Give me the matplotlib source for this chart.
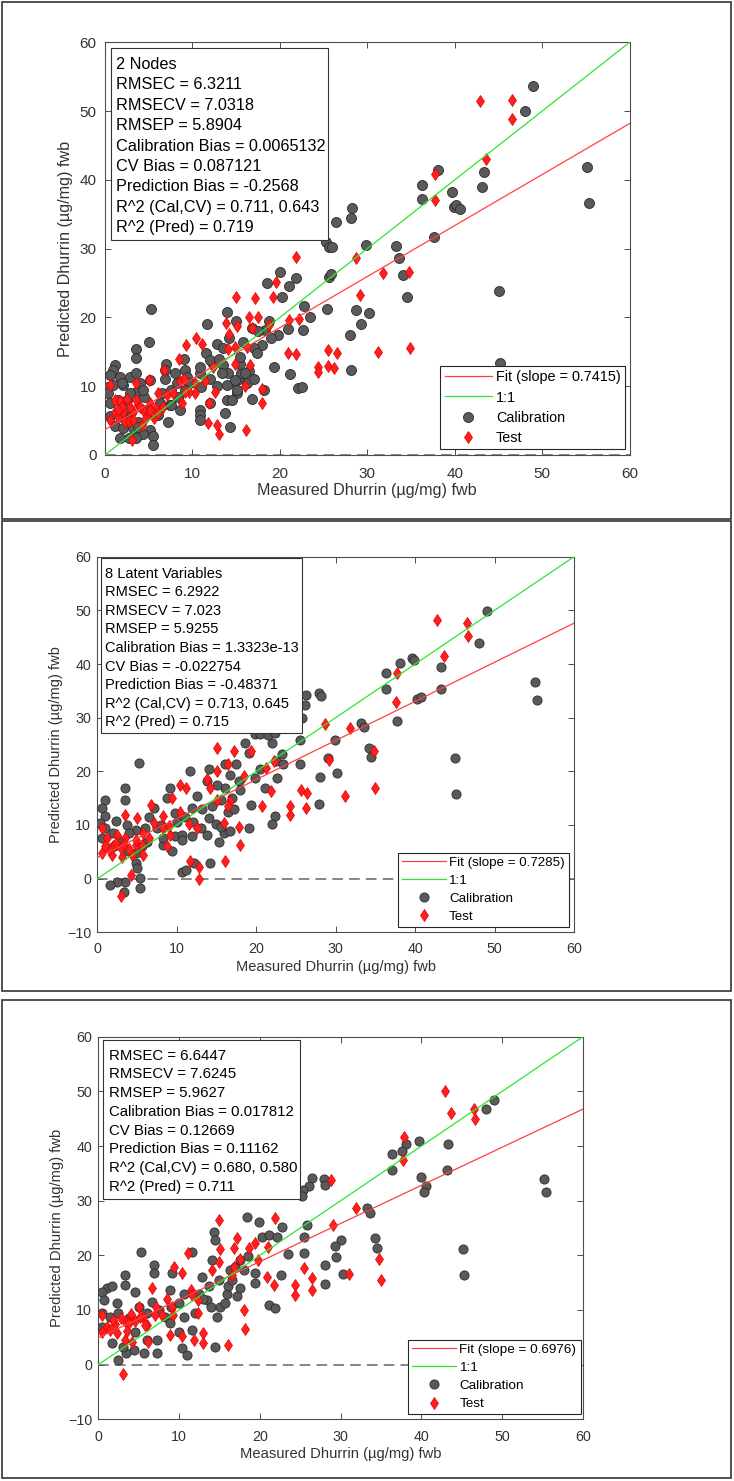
import matplotlib
matplotlib.use("Agg")
import matplotlib.pyplot as plt
from matplotlib.patches import Rectangle

plt.rcParams['font.family'] = ['Liberation Sans', 'DejaVu Sans']

# ---- Panel 1 (2 Nodes) ----
cal1_x = [25.3, 25.6, 26.0, 20.0, 21.9, 21.0, 20.2, 18.5, 23.5, 22.6, 20.9, 19.8, 18.3,
          14.0, 11.7, 15.8, 17.9, 5.0, 5.3, 3.5, 3.5, 1.1, 0.9, 0.6, 1.7, 2.9,
          0.4, 0.95, 2.1, 3.6, 4.0, 5.1, 7.0, 6.9, 6.9, 8.0, 9.1, 9.4, 9.7, 9.2, 8.4, 8.6,
          7.4, 7.2, 6.3, 6.1, 5.5, 5.2, 5.5, 5.5, 4.4, 3.6, 2.7, 1.7, 3.2, 3.8, 3.0, 2.5,
          1.5, 0.6, 0.6, 0.4, 10.9, 11.0, 12.0, 12.4, 13.5, 14.1, 14.7, 15.3, 15.6, 15.4,
          15.4, 17.0, 17.4, 16.2, 15.1, 13.9, 14.5, 12.0, 10.9, 10.9, 10.9, 11.6, 12.0,
          13.7, 14.3, 19.3, 21.2, 22.1, 22.5, 9.0, 16.5, 17.0, 18.2, 16.8, 13.0, 12.8,
          7.5, 8.2, 6.5, 4.5, 4.8, 2.0, 1.2, 2.4, 3.5, 18.8, 19.0, 16.8, 17.5, 15.0, 14.2,
          12.8, 13.5, 2.0, 4.4, 2.9, 2.1, 3.8, 10.9, 13.4, 13.9, 15.1, 14.9, 16.0, 7.6,
          49.0, 48.0, 55.1, 55.4, 43.3, 43.1, 38.1, 36.3, 36.3, 39.7, 39.9,
          40.2, 40.6, 37.6, 28.2, 28.1, 26.4, 25.6, 25.9, 29.9, 33.3, 33.6, 34.1, 34.5,
          45.1, 45.2, 25.4, 28.7, 30.2, 29.3, 28.0, 28.1, 22.8]
cal1_y = [31.0, 30.3, 30.2, 26.6, 25.7, 24.5, 23.0, 25.0, 20.0, 18.2, 18.3, 17.4, 18.2,
          20.8, 19.1, 16.5, 16.0, 16.4, 21.2, 15.4, 14.1, 13.1, 12.4, 11.6, 11.4, 11.4,
          9.9, 10.2, 10.2, 11.9, 10.4, 10.9, 13.3, 12.4, 11.1, 11.9, 12.4, 11.4, 10.4, 9.4,
          8.5, 6.5, 7.3, 4.8, 7.5, 5.8, 6.1, 3.6, 2.7, 1.5, 3.1, 2.4, 2.4, 2.4, 3.9, 4.8,
          6.3, 8.0, 8.0, 7.5, 5.6, 9.0, 11.9, 9.9, 11.1, 13.3, 13.1, 11.9, 10.4, 11.1,
          11.9, 13.3, 14.3, 15.5, 14.8, 10.4, 9.0, 8.0, 8.0, 7.5, 6.5, 5.8, 12.8, 14.8,
          13.8, 6.1, 4.1, 12.8, 11.8, 9.7, 9.9, 14.0, 12.2, 11.0, 9.5, 8.2, 14.0, 10.0,
          9.5, 10.5, 9.0, 8.5, 6.5, 5.5, 4.2, 6.8, 9.2, 19.5, 17.0, 18.5, 18.0, 19.5, 17.0,
          16.2, 15.5, 10.4, 9.5, 9.0, 3.9, 4.1, 5.1, 11.9, 10.2, 9.5, 10.9, 11.9, 7.3,
          53.7, 50.0, 41.8, 36.7, 41.1, 38.9, 41.4, 39.2, 37.2, 38.2, 36.0,
          36.4, 35.8, 31.7, 35.9, 34.4, 33.9, 25.9, 26.3, 30.6, 30.4, 28.7, 26.2, 23.0,
          23.9, 13.4, 21.2, 21.1, 20.7, 19.1, 17.5, 12.4, 21.7]
test1_x = [21.9, 19.6, 19.2, 15.0, 17.2, 22.2, 21.0, 18.7, 17.5, 16.5, 16.8, 15.1, 13.8,
           14.2, 16.2, 14.9, 14.1, 0.57, 1.1, 1.7, 2.5, 1.1, 2.1, 3.2, 4.4, 5.1, 5.0, 0.6,
           2.3, 4.2, 3.1, 3.6, 5.0, 6.7, 8.5, 9.3, 10.4, 11.1, 12.4, 8.6, 10.3, 11.4, 12.6,
           7.1, 7.8, 8.8, 6.1, 10.3, 11.9, 14.9, 16.6, 16.0, 17.9, 18.0, 11.8, 12.8, 13.0,
           16.1, 20.9, 21.9, 1.5, 2.8, 3.8, 4.6, 3.5, 2.0, 5.8, 6.6, 9.6, 9.0, 5.6,
           3.2, 5.5, 6.1, 1.5, 2.9, 4.0, 5.2, 9.1,
           24.4, 24.4, 25.5, 25.5, 26.2, 26.5, 31.2, 34.9,
           42.9, 46.5, 46.6, 43.6, 37.8, 37.7, 28.7, 31.8, 34.8, 29.2]
test1_y = [28.8, 25.2, 23.0, 23.0, 22.8, 19.7, 19.6, 18.9, 20.0, 20.0, 18.4, 18.7, 19.2,
           17.6, 15.7, 15.7, 15.4, 10.2, 8.0, 7.8, 8.2, 6.3, 6.3, 6.3, 6.5, 7.5, 6.3, 5.1,
           4.8, 4.4, 2.2, 10.4, 10.9, 12.4, 14.0, 16.0, 17.0, 16.2, 12.8, 10.7, 10.4, 10.7,
           9.1, 8.7, 9.0, 7.5, 9.0, 9.0, 7.5, 13.3, 13.1, 10.1, 9.6, 7.6, 4.7, 4.4, 3.1,
           3.6, 14.9, 14.7, 5.5, 5.0, 7.2, 5.2, 8.0, 7.0, 6.8, 7.0, 9.2, 11.0, 5.4,
           5.1, 6.1, 6.1, 6.5, 7.0, 7.0, 6.5, 9.2,
           12.8, 12.1, 15.3, 12.9, 12.6, 14.8, 15.0, 15.5,
           51.5, 51.6, 48.9, 43.1, 40.8, 37.1, 28.6, 26.4, 26.6, 23.3]
fit1_slope = 0.7415
fit1_icpt = 3.7
stats1 = ["2 Nodes", "RMSEC = 6.3211", "RMSECV = 7.0318", "RMSEP = 5.8904",
          "Calibration Bias = 0.0065132", "CV Bias = 0.087121",
          "Prediction Bias = -0.2568", "R^2 (Cal,CV) = 0.711, 0.643", "R^2 (Pred) = 0.719"]

# ---- Panel 2 (8 Latent Variables) ----
cal2_x = [5.3, 3.5, 3.5, 1.0, 0.58, 1.0, 0.37, 2.3, 3.7, 4.8, 6.0, 7.5, 9.2, 8.8, 7.1,
          9.8, 11.9, 12.5, 11.7, 14.0, 13.8, 16.1, 16.7, 17.4, 17.8, 16.1, 15.5, 14.4,
          13.2, 14.0, 14.9, 13.8, 15.3, 14.2, 12.1, 10.7, 11.1, 9.4, 8.3, 9.8, 10.7, 6.2,
          5.6, 4.8, 5.4, 5.4, 3.5, 2.5, 3.3, 1.6, 5.0, 4.8, 3.9, 2.05, 0.58, 1.0, 18.6,
          19.9, 22.0, 23.2, 19.9, 21.1, 19.3, 19.05, 19.05, 23.5, 12.0, 13.0, 16.5, 17.0,
          18.0, 15.0, 8.0, 10.0, 11.0, 6.5, 2.0, 3.0, 4.0, 16.0, 17.2, 20.5, 22.5, 20.5,
          21.5, 22.3, 15.5, 16.7, 11.9, 10.7, 8.3,
          49.1, 48.1, 55.1, 55.4, 45.0, 45.2, 43.3, 43.2, 39.6, 39.9, 38.1,
          36.3, 36.3, 40.2, 40.7, 37.7, 33.2, 33.6, 34.2, 34.5, 29.9, 29.0, 30.2, 28.0,
          27.9, 26.3, 27.9, 28.1, 26.1, 25.8, 25.5, 25.5, 23.4, 22.6, 22.4, 22.0]
cal2_y = [21.6, 16.9, 14.7, 14.7, 13.2, 11.6, 10.4, 10.7, 10.0, 9.1, 9.4, 9.4, 16.9, 15.0,
          13.2, 12.2, 13.2, 15.4, 20.0, 20.4, 18.2, 21.3, 19.4, 21.3, 18.2, 16.9, 14.7,
          13.5, 12.9, 11.3, 10.1, 8.2, 6.9, 2.9, 2.9, 1.3, 1.6, 5.1, 6.3, 7.9, 8.2, 6.9,
          6.0, 2.9, 0.06, -1.8, -0.6, -0.6, -2.4, -1.2, 1.9, 4.7, 5.1, 6.0, 7.6, 9.4, 25.3,
          26.9, 25.3, 23.2, 18.8, 16.9, 13.8, 9.4, 23.5, 28.8, 10.5, 9.5, 12.5, 15.0,
          16.5, 17.5, 10.0, 10.5, 11.5, 11.5, 8.5, 7.0, 8.5, 8.5, 13.0, 20.5, 22.0, 27.0,
          26.8, 27.2, 9.7, 8.8, 7.9, 7.2, 7.6,
          49.8, 44.0, 36.7, 33.3, 22.5, 15.8, 39.4, 35.4, 41.2, 40.7, 40.1,
          38.3, 35.4, 33.4, 33.8, 29.4, 29.0, 28.3, 24.4, 22.7, 25.8, 22.5, 19.7, 18.9,
          13.9, 34.3, 34.6, 34.0, 32.4, 30.0, 25.8, 21.3, 21.4, 18.8, 11.7, 10.2]
test2_x = [15.0, 17.2, 19.3, 16.45, 15.1, 13.8, 14.2, 15.1, 16.7, 16.5, 10.4, 11.1, 9.4,
           6.7, 3.5, 5.0, 8.3, 10.4, 11.5, 12.5, 9.2, 7.1, 8.3, 5.8, 0.58, 1.2, 2.5, 3.5,
           4.8, 0.58, 1.8, 3.1, 4.4, 5.8, 8.8, 15.9, 17.8, 18.0, 11.7, 12.8, 12.8, 16.1,
           4.2, 3.0, 21.2, 22.2, 18.4, 20.7, 21.8, 24.3, 24.3, 25.6, 26.4, 26.2, 28.7,
           29.1, 2.0, 3.0, 1.5, 4.0, 6.5, 9.0, 4.8, 5.6, 2.3, 3.3, 1.0,
           42.8, 46.5, 46.6, 43.6, 37.7, 37.6, 31.8, 34.8, 34.9, 31.2]
test2_y = [24.4, 23.8, 23.8, 21.3, 20.0, 18.5, 16.9, 14.7, 14.4, 13.5, 17.5, 16.9, 15.0,
           13.8, 11.9, 11.3, 11.6, 12.5, 10.1, 9.4, 8.2, 10.4, 9.4, 8.5, 9.4, 7.6, 8.2, 7.6,
           6.3, 4.7, 4.4, 4.1, 4.4, 4.4, 6.0, 10.4, 9.7, 6.3, 3.2, 2.2, -0.1, 3.2,
           0.6, -3.3, 20.7, 22.0, 19.1, 13.5, 16.3, 13.5, 11.9, 16.6, 16.0, 13.2, 28.8,
           22.2, 6.0, 5.8, 5.5, 5.5, 7.5, 9.8, 7.2, 6.3, 6.6, 6.4, 6.0,
           48.2, 47.6, 45.3, 41.5, 38.3, 33.0, 28.0, 23.7, 16.8, 15.4]
fit2_slope = 0.7285
fit2_icpt = 3.9
stats2 = ["8 Latent Variables", "RMSEC = 6.2922", "RMSECV = 7.023", "RMSEP = 5.9255",
          "Calibration Bias = 1.3323e-13", "CV Bias = -0.022754",
          "Prediction Bias = -0.48371", "R^2 (Cal,CV) = 0.713, 0.645", "R^2 (Pred) = 0.715"]

# ---- Panel 3 ----
cal3_x = [5.3, 1.1, 1.7, 0.46, 0.7, 2.3, 3.3, 3.3, 4.6, 5.0, 6.0, 6.65, 6.85, 6.85, 8.9,
          9.1, 10.6, 9.95, 10.6, 11.6, 12.8, 13.7, 14.1, 14.3, 14.5, 13.5, 13.9, 14.7,
          15.1, 15.7, 15.9, 16.1, 16.3, 16.9, 17.6, 18.0, 19.4, 19.4, 18.4, 19.9, 20.3,
          21.1, 22.1, 21.1, 21.9, 12.0, 11.6, 8.3, 8.9, 7.3, 6.0, 5.6, 7.3, 4.4, 3.4, 2.5,
          3.1, 1.7, 10.4, 11.0, 14.5, 0.46, 1.5, 0.46, 2.5, 3.8, 4.5, 7.5, 9.0, 12.5, 13.0,
          15.0, 16.5, 17.5, 18.5, 17.2, 10.0, 27.9,
          49.0, 47.97, 55.2, 55.4, 45.1, 45.3, 43.3, 43.2, 39.7, 40.0, 40.6, 40.3, 38.1,
          37.6, 36.4, 36.4, 33.3, 33.6, 34.2, 34.5, 30.1, 29.3, 29.4, 28.1, 28.1, 30.3,
          25.8, 25.5, 25.5, 28.1, 26.4, 26.1, 25.4, 25.2, 22.8, 23.5, 22.6]
cal3_y = [20.7, 14.0, 14.3, 13.3, 11.8, 11.2, 16.4, 14.6, 13.3, 10.6, 9.4, 11.5, 18.2, 16.7,
          13.6, 16.7, 13.0, 11.2, 8.8, 20.7, 16.1, 14.3, 19.1, 24.3, 22.8, 11.8, 10.6, 8.8,
          10.6, 11.2, 13.0, 14.3, 17.3, 17.9, 19.1, 17.3, 16.7, 14.9, 27.1, 26.1, 23.4,
          23.7, 23.4, 10.9, 10.3, 9.4, 6.3, 8.8, 7.6, 4.5, 4.5, 2.1, 2.1, 2.7, 2.1, 0.8,
          3.3, 3.9, 3.0, 1.8, 3.3, 9.4, 8.8, 6.9, 9.5, 8.5, 6.0, 10.0, 10.5, 13.0, 12.0,
          15.5, 15.5, 14.0, 19.8, 12.5, 6.0, 34.0,
          48.5, 46.7, 33.9, 31.6, 21.1, 16.4, 40.4, 35.6, 40.9, 34.4, 32.7, 31.5, 40.4,
          39.0, 38.5, 35.7, 28.6, 27.8, 23.1, 21.4, 22.8, 21.7, 19.7, 18.3, 14.8, 16.6,
          25.6, 23.3, 20.5, 32.9, 34.1, 32.6, 32.0, 30.8, 25.1, 20.2, 16.4]
test3_x = [14.9, 21.9, 17.2, 15.1, 16.75, 18.6, 19.4, 21.0, 19.8, 17.5, 14.9, 14.1, 16.5,
           16.75, 11.1, 9.4, 10.4, 6.7, 11.5, 11.6, 12.4, 8.5, 9.1, 7.1, 5.0, 7.9, 9.3,
           12.4, 6.0, 4.6, 3.3, 2.1, 1.1, 0.46, 0.46, 2.3, 3.3, 4.2, 1.5, 8.9, 10.4, 11.8,
           13.0, 13.0, 16.1, 6.15, 18.0, 18.1, 3.05, 20.9, 21.8, 24.3, 24.4, 25.5, 26.4,
           26.4, 2.8, 4.0, 5.5, 1.8, 3.6, 5.2, 5.8, 3.76, 7.06,
           42.9, 43.6, 46.5, 46.6, 37.8, 37.7, 28.8, 31.9, 29.1, 31.0, 34.8, 35.0]
test3_y = [26.5, 26.8, 23.1, 21.1, 21.3, 21.3, 22.2, 21.6, 19.1, 19.4, 18.8, 17.3, 16.4,
           17.9, 20.4, 17.9, 16.7, 14.1, 13.6, 12.7, 11.8, 12.1, 10.6, 10.6, 10.6, 9.1, 9.1,
           9.4, 7.3, 7.9, 7.9, 7.5, 6.9, 9.1, 6.0, 5.7, 4.5, 4.2, 6.3, 5.4, 5.3, 4.5,
           5.7, 3.9, 3.6, 4.2, 10.0, 6.6, -1.8, 16.1, 14.6, 14.6, 12.7, 17.6, 15.8,
           13.6, 8.5, 9.2, 8.8, 8.2, 6.2, 8.8, 7.2, 7.55, 9.1,
           50.0, 46.1, 46.7, 45.0, 41.7, 37.5, 33.8, 28.6, 25.6, 16.6, 19.3, 15.5]
fit3_slope = 0.6976
fit3_icpt = 4.9
stats3 = ["RMSEC = 6.6447", "RMSECV = 7.6245", "RMSEP = 5.9627",
          "Calibration Bias = 0.017812", "CV Bias = 0.12669", "Prediction Bias = 0.11162",
          "R^2 (Cal,CV) = 0.680, 0.580", "R^2 (Pred) = 0.711"]

W, H = 734, 1481
fig = plt.figure(figsize=(W / 100, H / 100), dpi=100)

def fx(px):
    return px / W

def fy(py):
    return 1 - py / H

# outer frames around each panel
for (l, t, r, b) in [(2, 2, 731, 519), (2, 521, 731, 991), (2, 1000, 731, 1478)]:
    fig.add_artist(Rectangle((fx(l), fy(b)), fx(r - l), (b - t) / H, transform=fig.transFigure,
                             fill=False, edgecolor='#333333', linewidth=1.2))


def draw_panel(box, ymin, cal_x, cal_y, test_x, test_y, slope, icpt, stats,
               txt_box, txt_pos, fs_txt, ls_txt, fs_leg, leg_anchor, fs_tick, fs_lab,
               xlab_y, ylab_x, ms_c, ms_d, xpad, ypad):
    l, t, r, b = box
    ax = fig.add_axes([fx(l), fy(b), fx(r - l), (b - t) / H])
    ax.plot(cal_x, cal_y, 'o', ms=ms_c, mfc='#5a5a5a', mec='#2b2b2b', mew=0.6,
            label='Calibration', zorder=3)
    ax.plot(test_x, test_y, 'd', ms=ms_d, mfc='#ff1f1f', mec='#e00000', mew=0.5,
            label='Test', zorder=3)
    xs = [0, 60]
    ax.plot(xs, [icpt + slope * v for v in xs], color='#ff4040', lw=0.9,
            label='Fit (slope = %.4f)' % slope, zorder=4)
    ax.plot(xs, xs, color='#2ee62e', lw=0.9, label='1:1', zorder=4)
    ax.plot([0, 60], [0, 0], color='#666666', lw=1.1, dashes=(7, 4), zorder=2)
    ax.plot([0, 0], [ymin, 60], color='#666666', lw=1.1, dashes=(7, 4), zorder=2)

    ax.set_xlim(0, 60)
    ax.set_ylim(ymin, 60)
    ax.set_xticks(range(0, 61, 10))
    ax.set_yticks(range(ymin, 61, 10))
    ax.tick_params(direction='in', top=True, right=True, length=4, width=0.7,
                   color='#4d4d4d', labelcolor='#333333', labelsize=fs_tick)
    ax.tick_params(axis='x', pad=xpad)
    ax.tick_params(axis='y', pad=ypad)
    for s in ax.spines.values():
        s.set_color('#4d4d4d')
        s.set_linewidth(0.8)

    h = ax.get_legend_handles_labels()[0]
    leg = ax.legend([h[2], h[3], h[0], h[1]],
                    [h[2].get_label(), h[3].get_label(), 'Calibration', 'Test'],
                    loc='lower right', bbox_to_anchor=(fx(leg_anchor[0]), fy(leg_anchor[1])),
                    bbox_transform=fig.transFigure, borderaxespad=0, fancybox=False,
                    framealpha=1, edgecolor='#262626', fontsize=fs_leg, handlelength=3.3,
                    handletextpad=0.25, borderpad=0.3, labelspacing=0.42, numpoints=1)
    leg.get_frame().set_linewidth(0.8)
    leg.set_zorder(10)

    tl, tt, tr, tb = txt_box
    fig.add_artist(Rectangle((fx(tl), fy(tb)), fx(tr - tl), (tb - tt) / H,
                             transform=fig.transFigure, facecolor='white',
                             edgecolor='#333333', linewidth=0.8, zorder=5))
    fig.text(fx(txt_pos[0]), fy(txt_pos[1]), "\n".join(stats), ha='left', va='top',
             fontsize=fs_txt, linespacing=ls_txt, color='black', zorder=6)

    fig.text(fx((l + r) / 2), fy(xlab_y), 'Measured Dhurrin (µg/mg) fwb', ha='center',
             va='center', fontsize=fs_lab, color='#333333')
    fig.text(fx(ylab_x), fy((t + b) / 2), 'Predicted Dhurrin (µg/mg) fwb', ha='center',
             va='center', rotation=90, fontsize=fs_lab, color='#333333')
    return ax


draw_panel((105, 42.3, 629.6, 455), 0, cal1_x, cal1_y, test1_x, test1_y, fit1_slope,
           fit1_icpt, stats1, (111, 48, 328, 240), (116, 57), 11.7, 1.45, 10.4,
           (625, 449), 11, 11.6, 491, 65.5, 7.2, 6.6, 9, 6)
draw_panel((97.4, 556.7, 574, 932.3), -10, cal2_x, cal2_y, test2_x, test2_y, fit2_slope,
           fit2_icpt, stats2, (100.7, 558, 302, 732.7), (105.3, 566.5), 10.5, 1.42, 9.6,
           (568.8, 926.7), 10.3, 10.5, 966.7, 56, 6.6, 6.1, 7, 4.5)
draw_panel((98.3, 1036.7, 583, 1419.3), -10, cal3_x, cal3_y, test3_x, test3_y, fit3_slope,
           fit3_icpt, stats3, (103, 1040, 299.6, 1199.3), (108.6, 1048.6), 10.8, 1.43, 9.7,
           (580.5, 1414.3), 10.3, 10.6, 1454, 57, 6.6, 6.1, 7.5, 4.5)

fig.savefig('out.png', dpi=100, facecolor='white')
